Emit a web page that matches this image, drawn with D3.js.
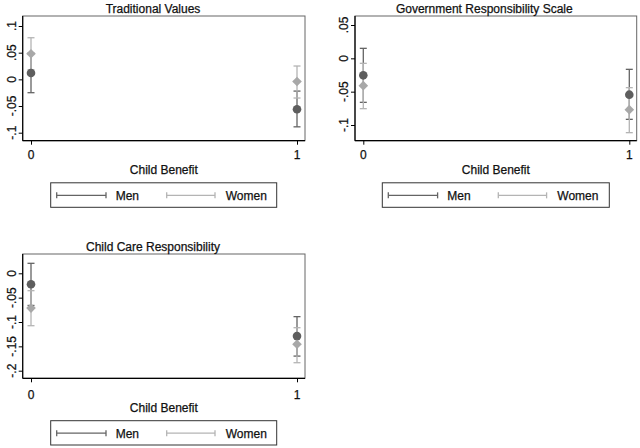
<!DOCTYPE html>
<html><head><meta charset="utf-8">
<script src="https://cdn.jsdelivr.net/npm/d3@7/dist/d3.min.js"></script>
<style>body{margin:0;background:#fff}svg{display:block}text{font-family:"Liberation Sans",Arial,Helvetica,sans-serif;fill:#111;stroke:#111;stroke-width:0.25px}</style>
</head><body>
<script>
// ---- data ----
const categories = [0, 1];
const panelTitles = ["Traditional Values", "Government Responsibility Scale", "Child Care Responsibility"];
const xTitle = "Child Benefit";
const seriesNames = ["Men", "Women"];
const yTicks = [
  [-0.1, -0.05, 0, 0.05, 0.1],
  [-0.1, -0.05, 0, 0.05],
  [-0.2, -0.15, -0.1, -0.05, 0]
];
const yTickLabels = [
  ["-.1", "-.05", "0", ".05", ".1"],
  ["-.1", "-.05", "0", ".05"],
  ["-.2", "-.15", "-.1", "-.05", "0"]
];
// estimates and 95% CI [low, high] for category 0 and 1
const menEst   = [[0.012, -0.056], [-0.0255, -0.0545], [-0.0226, -0.129]];
const menLo    = [[-0.025, -0.089], [-0.066, -0.0915], [-0.066, -0.170]];
const menHi    = [[0.049, -0.022], [0.015, -0.0165], [0.0205, -0.089]];
const womenEst = [[0.048, -0.004], [-0.041, -0.077], [-0.0715, -0.1458]];
const womenLo  = [[0.018, -0.035], [-0.0755, -0.1115], [-0.1076, -0.1836]];
const womenHi  = [[0.078, 0.025], [-0.0075, -0.044], [-0.0357, -0.1117]];

// ---- layout ----
const panels = [
  {box:[22.7, 305, 16, 140.7], x0:31, x1:297, yDom:[-0.1, 0.1], yRng:[132.7, 26], titleX:153, titleY:12.7,
   tickY:159.3, xtY:173.5, leg:[50.7, 276.7, 182.8, 207.3]},
  {box:[355, 636.7, 16, 140.7], x0:363.3, x1:629.3, yDom:[-0.1, 0.05], yRng:[125, 25], titleX:484.3, titleY:12.7,
   tickY:159.3, xtY:173.5, leg:[382.3, 609.3, 182.8, 207.3]},
  {box:[22.7, 305, 254, 378.3], x0:31, x1:297, yDom:[-0.2, 0], yRng:[370.7, 273.3], titleX:153, titleY:251,
   tickY:398.5, xtY:411.5, leg:[50.7, 276.7, 420.7, 445]}
];
const menColor = "#5e5e5e", womenColor = "#a8a8a8";
const menLine = "#646464", womenLine = "#b4b4b4";

const svg = d3.select("body").append("svg").attr("width", 640).attr("height", 448);

panels.forEach((p, i) => {
  const g = svg.append("g");
  const [bl, br, bt, bb] = p.box;
  const x = d3.scaleLinear().domain([0, 1]).range([p.x0, p.x1]);
  const y = d3.scaleLinear().domain(p.yDom).range(p.yRng);

  // plot region outline
  g.append("rect").attr("x", bl).attr("y", bt).attr("width", br - bl).attr("height", bb - bt)
    .attr("fill", "none").attr("stroke", "#666").attr("stroke-width", 1);

  // y axis
  const ya = d3.axisLeft(y).tickValues(yTicks[i]).tickSize(4).tickFormat(() => "");
  const yg = g.append("g").attr("transform", `translate(${bl},0)`).call(ya);
  yg.select(".domain").remove();
  yg.selectAll(".tick line").attr("stroke", "#000");
  g.append("line").attr("x1", bl).attr("x2", bl).attr("y1", bt).attr("y2", bb).attr("stroke", "#000").attr("stroke-width", 1.2);
  yTicks[i].forEach((v, k) => {
    g.append("text").attr("transform", `translate(${bl - 7.2},${y(v)}) rotate(-90)`)
      .attr("text-anchor", "middle").attr("font-size", 12).text(yTickLabels[i][k]);
  });

  // x axis
  const xa = d3.axisBottom(x).tickValues(categories).tickSize(4).tickFormat(() => "");
  const xg = g.append("g").attr("transform", `translate(0,${bb})`).call(xa);
  xg.select(".domain").remove();
  xg.selectAll(".tick line").attr("stroke", "#000");
  g.append("line").attr("x1", bl).attr("x2", br).attr("y1", bb).attr("y2", bb).attr("stroke", "#000").attr("stroke-width", 1.2);
  categories.forEach(c => {
    g.append("text").attr("x", x(c)).attr("y", p.tickY).attr("text-anchor", "middle")
      .attr("font-size", 12).text(String(c));
  });

  // titles
  g.append("text").attr("x", p.titleX).attr("y", p.titleY).attr("text-anchor", "middle")
    .attr("font-size", 12).text(panelTitles[i]);
  g.append("text").attr("x", (bl + br) / 2).attr("y", p.xtY).attr("text-anchor", "middle")
    .attr("font-size", 12).text(xTitle);

  // error bars
  const series = [
    {est: menEst[i], lo: menLo[i], hi: menHi[i], col: menColor, lc: menLine, shape: "circle"},
    {est: womenEst[i], lo: womenLo[i], hi: womenHi[i], col: womenColor, lc: womenLine, shape: "diamond"}
  ];
  const capW = 3.5;
  series.forEach(s => {
    categories.forEach((c, k) => {
      const cx = x(c);
      g.append("line").attr("x1", cx).attr("x2", cx).attr("y1", y(s.lo[k])).attr("y2", y(s.hi[k]))
        .attr("stroke", s.lc).attr("stroke-width", 1.3);
      [s.lo[k], s.hi[k]].forEach(v => {
        g.append("line").attr("x1", cx - capW).attr("x2", cx + capW).attr("y1", y(v)).attr("y2", y(v))
          .attr("stroke", s.lc).attr("stroke-width", 1.3);
      });
    });
  });
  series.forEach(s => {
    categories.forEach((c, k) => {
      const cx = x(c), cy = y(s.est[k]);
      if (s.shape === "circle") {
        g.append("circle").attr("cx", cx).attr("cy", cy).attr("r", 4.3).attr("fill", s.col);
      } else {
        const r = 4.8;
        g.append("path").attr("d", `M${cx},${cy - r}L${cx + r},${cy}L${cx},${cy + r}L${cx - r},${cy}Z`).attr("fill", s.col);
      }
    });
  });

  // legend
  const [ll, lr, lt, lb] = p.leg;
  g.append("rect").attr("x", ll).attr("y", lt).attr("width", lr - ll).attr("height", lb - lt)
    .attr("fill", "#fff").attr("stroke", "#333").attr("stroke-width", 1);
  const ly = (lt + lb) / 2 + 0.3;
  const items = [
    {name: seriesNames[0], lc: menLine, x0: ll + 6, x1: ll + 55.3, tx: ll + 65},
    {name: seriesNames[1], lc: womenLine, x0: ll + 116, x1: ll + 164.3, tx: ll + 175}
  ];
  items.forEach(it => {
    g.append("line").attr("x1", it.x0).attr("x2", it.x1).attr("y1", ly).attr("y2", ly).attr("stroke", it.lc).attr("stroke-width", 1.3);
    [it.x0, it.x1].forEach(xx => g.append("line").attr("x1", xx).attr("x2", xx).attr("y1", ly - 3).attr("y2", ly + 3)
      .attr("stroke", it.lc).attr("stroke-width", 1.3));
    g.append("text").attr("x", it.tx).attr("y", ly + 4.5).attr("font-size", 12).text(it.name);
  });
});
</script>
</body></html>
